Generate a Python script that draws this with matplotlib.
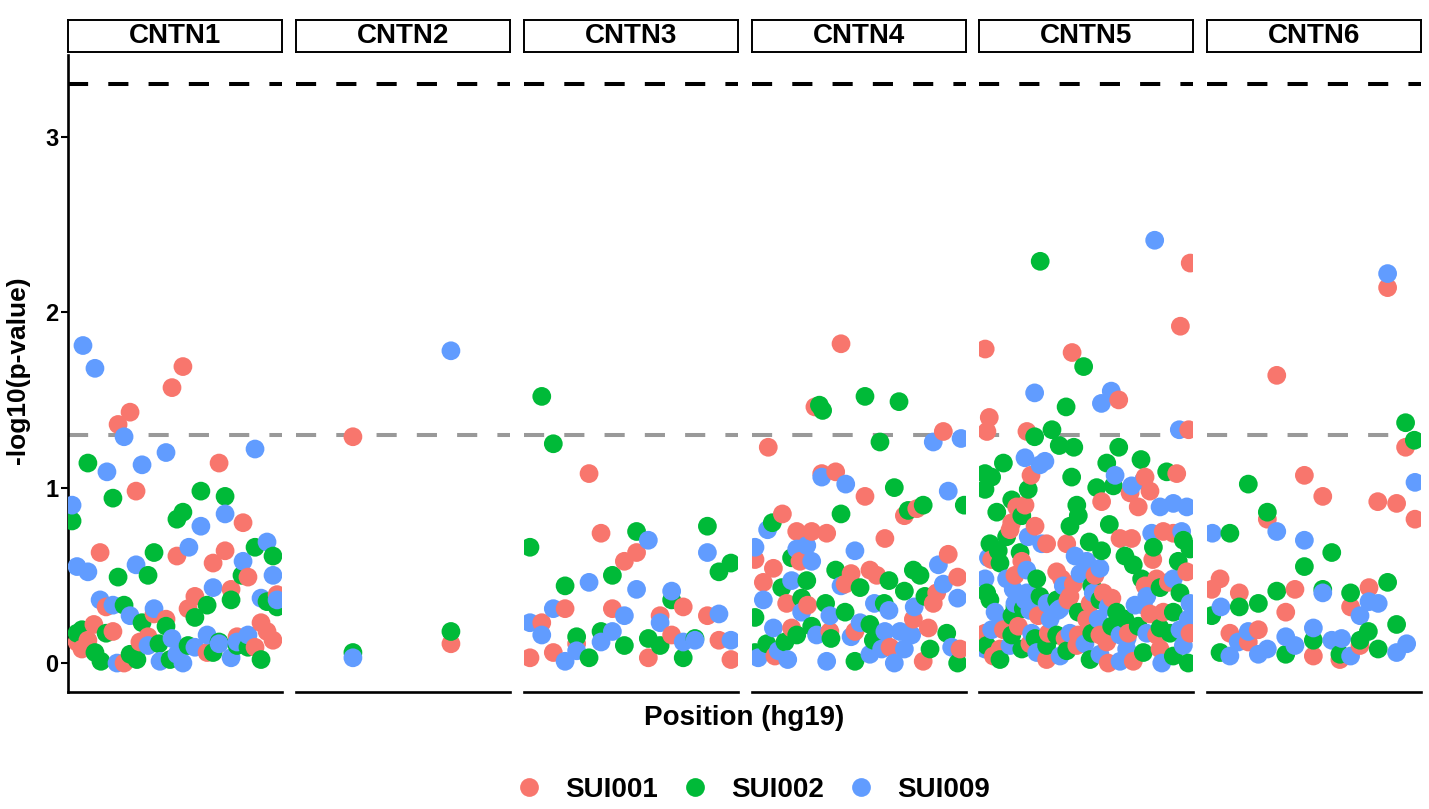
import numpy as np
import matplotlib
matplotlib.use("Agg")
import matplotlib.pyplot as plt
from matplotlib.lines import Line2D

plt.rcParams['font.family'] = ['Liberation Sans', 'DejaVu Sans']
plt.rcParams['font.weight'] = 'bold'

# relative position within gene (0-100) and -log10(p-value)
genes = ["CNTN1", "CNTN2", "CNTN3", "CNTN4", "CNTN5", "CNTN6"]
samples = ["SUI001", "SUI002", "SUI009"]
colors = ["#F8766D", "#00BA38", "#619CFF"]

sig_line = 1.301      # p = 0.05
bonf_line = 3.301     # p = 0.0005

CNTN1_SUI001 = [(48.6,1.57),(53.7,1.69),(29.0,1.43),(23.4,1.36),(70.6,1.14),(31.8,0.98),(81.8,0.80),
                (15.0,0.63),(50.9,0.61),(73.4,0.64),(67.8,0.57),(84.1,0.49),(76.2,0.42),(17.8,0.32),
                (40.2,0.28),(45.8,0.25),(59.3,0.38),(56.1,0.31),(97.7,0.39),(90.2,0.23),(93.0,0.18),
                (95.8,0.13),(12.1,0.22),(9.3,0.13),(4.2,0.12),(6.5,0.08),(21.0,0.18),(26.2,0.00),
                (33.6,0.12),(37.4,0.15),(65.0,0.06),(79.0,0.15),(87.4,0.09)]
CNTN1_SUI002 = [(9.3,1.14),(21.0,0.94),(1.9,0.81),(62.1,0.98),(73.4,0.95),(53.7,0.86),(50.9,0.82),
                (40.2,0.63),(87.4,0.66),(95.8,0.61),(23.4,0.49),(37.4,0.50),(81.3,0.50),(76.2,0.36),
                (26.2,0.33),(65.0,0.33),(59.3,0.26),(34.6,0.23),(45.8,0.21),(93.0,0.35),(97.7,0.32),
                (4.2,0.17),(6.5,0.19),(17.8,0.17),(12.6,0.06),(15.4,0.01),(29.0,0.05),(32.2,0.02),
                (42.5,0.11),(47.7,0.02),(56.1,0.10),(67.8,0.06),(70.6,0.12),(79.0,0.10),(84.1,0.09),
                (90.2,0.02)]
CNTN1_SUI009 = [(7.0,1.81),(12.6,1.68),(26.2,1.29),(45.8,1.20),(87.4,1.22),(18.2,1.09),(34.6,1.13),
                (1.9,0.90),(62.1,0.78),(73.4,0.85),(56.5,0.66),(93.0,0.69),(4.2,0.55),(9.3,0.52),
                (31.8,0.56),(81.8,0.58),(95.8,0.50),(67.8,0.43),(15.0,0.36),(21.0,0.33),(40.2,0.31),
                (29.0,0.27),(90.2,0.37),(97.7,0.36),(22.9,0.00),(37.4,0.10),(43.0,0.01),(48.6,0.14),
                (50.9,0.05),(53.7,0.00),(59.3,0.09),(65.0,0.16),(70.6,0.11),(76.2,0.03),(79.0,0.12),
                (84.1,0.16)]

CNTN2_SUI001 = [(26.6,1.29),(72.4,0.11)]
CNTN2_SUI002 = [(26.6,0.06),(72.4,0.18)]
CNTN2_SUI009 = [(26.6,0.03),(72.4,1.78)]

CNTN3_SUI001 = [(30.4,1.08),(36.0,0.74),(52.6,0.63),(46.9,0.58),(74.4,0.32),(19.2,0.31),(41.3,0.31),
                (63.6,0.27),(85.7,0.27),(8.3,0.23),(24.6,0.11),(69.0,0.16),(91.1,0.13),(2.8,0.03),
                (13.7,0.06),(58.1,0.03),(96.7,0.02)]
CNTN3_SUI002 = [(8.3,1.52),(13.7,1.25),(52.6,0.75),(2.8,0.66),(85.7,0.78),(91.1,0.52),(96.7,0.57),
                (19.2,0.44),(41.3,0.50),(69.0,0.36),(24.6,0.15),(36.0,0.18),(46.9,0.10),(58.1,0.14),
                (63.6,0.10),(79.9,0.14),(30.4,0.03),(74.4,0.03)]
CNTN3_SUI009 = [(58.1,0.70),(85.7,0.63),(30.4,0.46),(52.6,0.42),(69.0,0.41),(13.7,0.31),(46.9,0.27),
                (63.6,0.23),(91.1,0.28),(2.8,0.23),(8.3,0.16),(24.6,0.07),(41.3,0.18),(36.0,0.12),
                (74.4,0.12),(79.9,0.13),(96.7,0.13),(19.2,0.01)]

CNTN4_SUI001 = [(41.6,1.82),(29.4,1.46),(89.4,1.32),(7.6,1.23),(32.6,1.08),(39.1,1.09),(52.8,0.95),
                (77.0,0.88),(71.2,0.84),(14.2,0.85),(20.9,0.75),(27.9,0.75),(34.9,0.74),(62.1,0.71),
                (1.4,0.59),(22.4,0.58),(91.7,0.62),(10.0,0.54),(46.3,0.51),(55.1,0.53),(58.3,0.50),
                (96.1,0.49),(5.3,0.46),(43.5,0.45),(86.3,0.40),(16.2,0.34),(26.0,0.33),(84.7,0.34),
                (75.4,0.25),(82.4,0.20),(48.1,0.18),(18.5,0.20),(36.4,0.18),(10.7,0.04),(64.5,0.09),
                (80.0,0.01),(97.2,0.08)]
CNTN4_SUI002 = [(31.5,1.47),(33.0,1.44),(52.8,1.52),(68.7,1.49),(59.8,1.26),(66.5,1.00),(99.2,0.90),
                (80.0,0.90),(73.0,0.87),(41.6,0.85),(9.5,0.80),(18.5,0.60),(39.1,0.53),(75.4,0.53),
                (78.5,0.50),(25.6,0.47),(50.5,0.43),(64.0,0.47),(71.2,0.41),(13.9,0.43),(23.2,0.37),
                (34.4,0.34),(61.8,0.34),(80.8,0.38),(1.4,0.26),(43.5,0.29),(55.1,0.22),(27.9,0.21),
                (20.9,0.16),(36.9,0.14),(91.0,0.17),(15.4,0.12),(6.9,0.11),(1.4,0.06),(56.7,0.13),
                (83.2,0.08),(96.1,0.00),(48.1,0.01)]
CNTN4_SUI009 = [(84.7,1.26),(97.7,1.28),(32.6,1.06),(43.8,1.02),(91.7,0.98),(7.3,0.76),(1.4,0.66),
                (20.9,0.65),(25.6,0.67),(48.1,0.64),(27.9,0.58),(87.1,0.56),(18.5,0.47),(41.6,0.44),
                (89.4,0.45),(5.3,0.36),(23.2,0.29),(57.2,0.34),(64.0,0.30),(96.1,0.37),(75.8,0.32),
                (36.4,0.27),(50.5,0.23),(10.0,0.20),(30.2,0.16),(46.3,0.15),(62.1,0.18),(69.2,0.18),
                (74.6,0.16),(12.3,0.07),(2.9,0.03),(16.7,0.02),(60.6,0.08),(66.5,0.00),(71.2,0.08),
                (93.3,0.09),(34.9,0.01),(55.1,0.05)]

CNTN5_SUI001 = [(98.7,2.28),(94.1,1.92),(2.9,1.79),(43.5,1.77),(65.3,1.50),(4.8,1.40),(3.7,1.32),
                (22.4,1.32),(98.0,1.33),(24.3,1.07),(77.6,1.06),(92.4,1.08),(70.6,0.97),(79.9,0.98),
                (57.3,0.92),(74.4,0.89),(17.6,0.89),(21.5,0.90),(15.3,0.80),(26.2,0.78),(14.5,0.76),
                (31.6,0.68),(41.0,0.68),(65.9,0.71),(71.3,0.71),(86.1,0.75),(90.8,0.74),(5.9,0.59),
                (20.0,0.58),(81.2,0.59),(97.1,0.52),(16.8,0.50),(36.3,0.52),(38.6,0.48),(44.1,0.45),
                (42.5,0.38),(54.2,0.50),(58.1,0.40),(77.6,0.44),(83.0,0.48),(88.5,0.46),(27.7,0.27),
                (50.3,0.25),(86.1,0.29),(2.8,0.17),(11.4,0.19),(18.4,0.21),(32.4,0.17),(46.4,0.16),
                (56.5,0.16),(69.8,0.17),(83.0,0.16),(98.6,0.17),(6.7,0.04),(9.8,0.08),(31.6,0.02),
                (45.7,0.10),(60.4,0.00),(72.1,0.01),(84.6,0.08),(59.7,0.12),(41.6,0.36),(62.1,0.37),
                (51.9,0.34),(79.9,0.28),(40.2,0.14),(23.8,0.11)]
CNTN5_SUI002 = [(28.6,2.29),(48.9,1.69),(40.7,1.46),(26.0,1.29),(34.1,1.33),(37.5,1.24),(44.3,1.23),
                (65.3,1.23),(11.4,1.14),(59.7,1.14),(75.7,1.16),(2.8,1.08),(5.9,1.06),(43.3,1.06),
                (87.7,1.09),(2.8,0.99),(23.0,0.99),(55.0,1.00),(62.8,1.01),(15.3,0.93),(45.7,0.90),
                (8.3,0.86),(20.0,0.84),(46.4,0.84),(42.5,0.78),(60.9,0.79),(12.9,0.72),(51.5,0.69),
                (57.3,0.64),(95.5,0.70),(98.6,0.65),(5.1,0.68),(9.0,0.64),(19.2,0.63),(9.8,0.57),
                (68.2,0.61),(72.1,0.56),(81.5,0.66),(93.1,0.58),(3.6,0.40),(27.0,0.48),(28.5,0.38),
                (36.3,0.36),(52.7,0.44),(56.5,0.36),(76.0,0.48),(84.6,0.43),(93.9,0.40),(5.1,0.36),
                (16.8,0.32),(20.7,0.31),(46.4,0.29),(64.3,0.29),(90.8,0.29),(15.3,0.16),(26.2,0.14),
                (36.3,0.16),(52.7,0.17),(62.0,0.21),(74.4,0.21),(89.3,0.17),(3.6,0.10),(20.0,0.08),
                (41.0,0.07),(51.9,0.02),(76.8,0.06),(90.8,0.04),(97.8,0.00),(31.6,0.10),(15.4,0.27),
                (68.2,0.25),(84.6,0.20),(9.8,0.02)]
CNTN5_SUI009 = [(82.1,2.41),(26.0,1.54),(61.8,1.55),(57.2,1.48),(93.6,1.33),(21.5,1.17),(30.8,1.15),
                (28.5,1.13),(63.6,1.07),(71.3,1.01),(76.8,1.04),(84.6,0.89),(90.8,0.91),(97.1,0.89),
                (23.0,0.72),(29.3,0.68),(80.7,0.74),(94.7,0.75),(4.4,0.60),(44.9,0.61),(50.3,0.58),
                (56.5,0.54),(2.8,0.48),(12.9,0.48),(22.3,0.53),(16.0,0.42),(22.3,0.40),(39.4,0.44),
                (47.2,0.51),(53.4,0.40),(78.4,0.38),(90.8,0.48),(98.6,0.34),(7.5,0.29),(21.5,0.36),
                (33.2,0.25),(37.9,0.31),(55.7,0.25),(72.9,0.33),(76.8,0.33),(97.8,0.25),(5.9,0.19),
                (24.6,0.17),(42.5,0.17),(65.9,0.16),(78.4,0.17),(93.9,0.19),(27.0,0.06),(37.9,0.04),
                (65.9,0.01),(85.4,0.00),(56.5,0.05),(69.0,0.08),(95.5,0.10),(14.5,0.10),(16.8,0.34),
                (23.8,0.30),(31.8,0.34),(36.9,0.30),(60.3,0.32),(9.8,0.22),(69.2,0.14),(49.5,0.11),
                (2.8,0.08)]

CNTN6_SUI001 = [(84.4,2.14),(32.6,1.64),(92.8,1.23),(45.5,1.07),(54.1,0.95),(79.8,0.92),(88.6,0.91),
                (97.2,0.82),(28.2,0.82),(6.1,0.48),(2.2,0.42),(15.1,0.40),(41.1,0.42),(75.7,0.43),
                (36.8,0.29),(67.1,0.32),(10.7,0.17),(24.0,0.19),(19.3,0.12),(71.5,0.10),(49.7,0.04),
                (62.1,0.02)]
CNTN6_SUI002 = [(92.8,1.37),(96.9,1.27),(19.3,1.02),(28.2,0.86),(10.7,0.74),(58.3,0.63),(45.5,0.55),
                (32.6,0.41),(54.1,0.42),(67.1,0.40),(84.4,0.46),(15.1,0.32),(24.0,0.34),(2.2,0.27),
                (75.4,0.18),(88.6,0.22),(49.7,0.13),(71.5,0.13),(6.1,0.06),(36.8,0.05),(62.1,0.05),
                (80.0,0.08)]
CNTN6_SUI009 = [(84.4,2.22),(97.2,1.03),(2.5,0.74),(32.6,0.75),(45.5,0.70),(54.1,0.40),(6.5,0.32),
                (75.7,0.35),(80.0,0.34),(71.5,0.27),(19.3,0.18),(14.6,0.12),(49.7,0.20),(36.8,0.15),
                (58.3,0.13),(62.9,0.14),(41.1,0.10),(10.7,0.04),(24.0,0.05),(28.2,0.08),(67.1,0.04),
                (88.6,0.06),(93.3,0.11)]

points = {
    "CNTN1": [CNTN1_SUI001, CNTN1_SUI002, CNTN1_SUI009],
    "CNTN2": [CNTN2_SUI001, CNTN2_SUI002, CNTN2_SUI009],
    "CNTN3": [CNTN3_SUI001, CNTN3_SUI002, CNTN3_SUI009],
    "CNTN4": [CNTN4_SUI001, CNTN4_SUI002, CNTN4_SUI009],
    "CNTN5": [CNTN5_SUI001, CNTN5_SUI002, CNTN5_SUI009],
    "CNTN6": [CNTN6_SUI001, CNTN6_SUI002, CNTN6_SUI009],
}

W, H = 1429, 809
fig = plt.figure(figsize=(W / 100, H / 100), dpi=100)

panel_w = 214
lefts = [68, 296, 524, 752, 979, 1207]
top, bottom = 55, 692
marker_s = 13.5 ** 2

for i, gene in enumerate(genes):
    l = lefts[i]
    ax = fig.add_axes([l / W, 1 - bottom / H, panel_w / W, (bottom - top) / H])
    # interleave samples by position, like rows of a data frame
    xs, ys, cs = [], [], []
    for k, pts in enumerate(points[gene]):
        for x, y in pts:
            xs.append(x); ys.append(y); cs.append(colors[k])
    order = np.argsort(xs, kind="stable")
    xs = np.array(xs)[order]; ys = np.array(ys)[order]; cs = np.array(cs)[order]
    ax.scatter(xs, ys, s=marker_s, c=cs, linewidths=0, zorder=3)
    ax.axhline(bonf_line, color="black", lw=2.9, dashes=(5, 5), zorder=2)
    ax.axhline(sig_line, color="#999999", lw=2.9, dashes=(5, 5), zorder=2)
    ax.set_xlim(0, 100)
    ax.set_ylim(-0.165, 3.466)
    ax.set_xticks([])
    for side in ["top", "right"]:
        ax.spines[side].set_visible(False)
    ax.spines["bottom"].set_linewidth(1.9)
    if i == 0:
        ax.spines["left"].set_linewidth(1.9)
        ax.set_yticks([0, 1, 2, 3])
        ax.tick_params(axis="y", length=5, width=1.5, labelsize=17, pad=2)
        for t in ax.get_yticklabels():
            t.set_fontweight("bold")
    else:
        ax.spines["left"].set_visible(False)
        ax.set_yticks([])

    # facet strip
    sax = fig.add_axes([l / W, 1 - 52 / H, panel_w / W, 32 / H])
    sax.set_xticks([]); sax.set_yticks([])
    for sp in sax.spines.values():
        sp.set_linewidth(1.4)
    sax.text(0.5, 0.5, gene, ha="center", va="center", fontsize=20, fontweight="bold",
             transform=sax.transAxes)

fig.text(18 / W, 1 - 370 / H, "-log10(p-value)", rotation=90, ha="center", va="center",
         fontsize=19, fontweight="bold")
fig.text(744 / W, 1 - 718 / H, "Position (hg19)", ha="center", va="center",
         fontsize=20, fontweight="bold")

handles = [Line2D([], [], marker="o", ls="", color=c, markersize=13.5, markeredgewidth=0)
           for c in colors]
leg = fig.legend(handles, samples, loc="center", bbox_to_anchor=(751 / W, 1 - 790 / H),
                 ncol=3, frameon=False, fontsize=20, handletextpad=0.7, columnspacing=0.74,
                 handlelength=1.2)
for t in leg.get_texts():
    t.set_fontweight("bold")

fig.savefig("out.png", dpi=100)
